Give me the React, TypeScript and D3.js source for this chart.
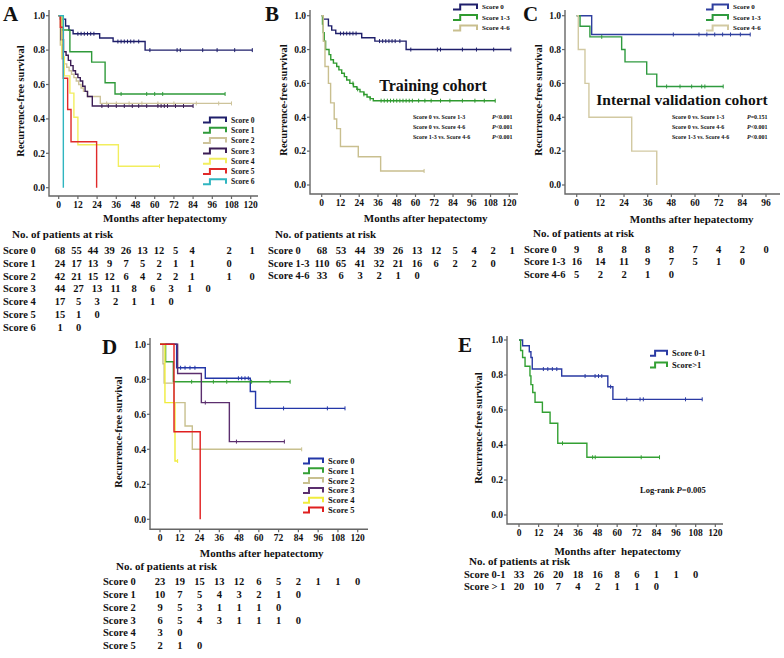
import * as d3 from "d3";

type Pt = [number, number];

const FONT = "'Liberation Serif', 'Times New Roman', serif";

const MONTHS_120 = [0, 12, 24, 36, 48, 60, 72, 84, 96, 108, 120];
const MONTHS_96 = [0, 12, 24, 36, 48, 60, 72, 84, 96];
const SURV_TICKS = [0, 0.2, 0.4, 0.6, 0.8, 1.0];

// ---- training cohort, score 0 (same data in A and B)
const TRAIN_S0: Pt[] = [[0, 1], [1, 0.98], [4.3, 0.94], [6.4, 0.915], [9, 0.895], [25.6, 0.87], [34, 0.85], [54, 0.8]];
const TRAIN_S0_CENS = [12, 14, 16, 18, 20, 22, 37, 39, 41, 43, 45, 47, 50, 57, 74, 76, 90, 99, 110];

// ---- panel A
const A_S1: Pt[] = [[0, 1], [2, 0.917], [7, 0.79], [20.6, 0.73], [29, 0.61], [35.2, 0.545]];
const A_S1_CENS = [39, 55, 60, 65];
const A_S2: Pt[] = [[0, 1], [1, 0.83], [2, 0.75], [3.5, 0.72], [5, 0.7], [6.5, 0.68], [8, 0.66], [9.5, 0.64], [11, 0.62], [12.5, 0.6], [14, 0.58], [15.5, 0.56], [18, 0.53], [26, 0.49]];
const A_S2_CENS = [30, 36, 44, 52, 62, 72, 86, 100];
const A_S3: Pt[] = [[0, 1], [1.5, 0.86], [3, 0.79], [4.6, 0.77], [6, 0.74], [7.5, 0.71], [9, 0.68], [10.5, 0.66], [12, 0.64], [13.5, 0.62], [15, 0.59], [16.5, 0.56], [18, 0.53], [21, 0.475]];
const A_S3_CENS = [27, 31, 36, 41, 46, 50, 55, 62, 64, 66, 68, 73, 78];
const A_S4: Pt[] = [[0, 1], [2, 0.76], [3.5, 0.65], [7, 0.55], [9.5, 0.41], [12, 0.25], [37.3, 0.125]];
const A_S5: Pt[] = [[0, 1], [1, 0.933], [2.9, 0.636], [5.6, 0.455], [7.7, 0.267], [23.7, 0]];
const A_S6: Pt[] = [[0, 1], [2.9, 0]];
const A_ENDS = [121, 104, 108, 84, 63, 23.7, 2.9];

// ---- panel B
const B_S13: Pt[] = [[0, 1], [0.5, 0.95], [1, 0.9], [1.6, 0.85], [2.5, 0.8], [4.7, 0.77], [5.8, 0.74], [7.5, 0.72], [9.6, 0.7], [11, 0.68], [12.8, 0.66], [14.5, 0.64], [16, 0.62], [18, 0.6], [20.3, 0.58], [22.5, 0.565], [24.5, 0.55], [27, 0.535], [29, 0.52], [31, 0.51], [33, 0.498]];
const B_S13_CENS = [20, 23, 27, 31, 38, 40, 42, 44, 46, 48, 50, 52, 54, 56, 58, 62, 66, 70, 76, 82, 90, 98, 104];
const B_S46: Pt[] = [[0, 1], [1, 0.85], [2.1, 0.7], [4.3, 0.6], [5.7, 0.485], [8, 0.39], [9.6, 0.333], [12, 0.227], [23.4, 0.167], [37.7, 0.083]];
const B_ENDS = [121, 111, 65.5];

// ---- panel C
const C_S0: Pt[] = [[0, 1], [7.6, 0.889]];
const C_S0_CENS = [49, 62, 66, 70, 74, 78, 83];
const C_S13: Pt[] = [[0, 1], [1.7, 0.9375], [6.7, 0.875], [22.8, 0.8], [24.5, 0.727], [35.5, 0.655], [40.6, 0.582]];
const C_S13_CENS = [12.7, 45.6, 52.4, 58.3, 63.4, 65];
const C_S46: Pt[] = [[0, 1], [0.8, 0.8], [4.2, 0.6], [6.2, 0.4], [27.9, 0.2], [40.6, 0]];
const C_ENDS = [88, 74.3, 40.6];

// ---- panel D
const D_S0: Pt[] = [[0, 1], [10.1, 0.866], [27.5, 0.806], [54.8, 0.73], [58, 0.634]];
const D_S0_CENS = [12.5, 15.2, 18.2, 21.2, 47.6, 49.6, 51.6, 53.6, 75, 101.6];
const D_S1: Pt[] = [[0, 1], [3.4, 0.9], [8.1, 0.786]];
const D_S1_CENS = [19.2, 32.4, 40.5, 55.6, 66.8];
const D_S2: Pt[] = [[0, 1], [1.8, 0.889], [2.5, 0.778], [8.5, 0.667], [15.2, 0.533], [19.6, 0.4]];
const D_S3: Pt[] = [[0, 1], [10.7, 0.833], [25.1, 0.667], [42.1, 0.444]];
const D_S3_CENS = [27.5, 46.4];
const D_S4: Pt[] = [[0, 1], [3, 0.667], [9.1, 0.333]];
const D_S5: Pt[] = [[0, 1], [8.5, 0.5], [24.4, 0]];
const D_ENDS = [112.3, 79, 86, 75.5, 10.7, 24.4];

// ---- panel E
const E_S01: Pt[] = [[0, 1], [2.2, 0.967], [6.3, 0.933], [7.3, 0.9], [8.1, 0.834], [26.1, 0.794], [54.3, 0.733], [57.4, 0.661]];
const E_S01_CENS = [14.9, 17.6, 20.4, 23.1, 40.4, 46.5, 48.6, 50.6, 56, 65.9, 74, 76, 101.8];
const E_S1: Pt[] = [[0, 1], [1, 0.94], [2.2, 0.9], [3.7, 0.85], [6.7, 0.795], [7.3, 0.745], [8.4, 0.7], [9.8, 0.644], [14.3, 0.587], [19, 0.524], [23.7, 0.41], [41.5, 0.33]];
const E_S1_CENS = [26.6, 45, 46.6, 74.7];
const E_ENDS = [112, 85.9];

// ---- numbers at risk
const A_LABELS = ["Score 0", "Score 1", "Score 2", "Score 3", "Score 4", "Score 5", "Score 6"];
const A_RISK_0 = [68, 55, 44, 39, 26, 13, 12, 5, 4, 2, 1];
const A_RISK_1 = [24, 17, 13, 9, 7, 5, 2, 1, 1, 0];
const A_RISK_2 = [42, 21, 15, 12, 6, 4, 2, 2, 1, 1, 0];
const A_RISK_3 = [44, 27, 13, 11, 8, 6, 3, 1, 0];
const A_RISK_4 = [17, 5, 3, 2, 1, 1, 0];
const A_RISK_5 = [15, 1, 0];
const A_RISK_6 = [1, 0];

const BC_LABELS = ["Score 0", "Score 1-3", "Score 4-6"];
const B_RISK_0 = [68, 53, 44, 39, 26, 13, 12, 5, 4, 2, 1];
const B_RISK_13 = [110, 65, 41, 32, 21, 16, 6, 2, 2, 0];
const B_RISK_46 = [33, 6, 3, 2, 1, 0];
const C_RISK_0 = [9, 8, 8, 8, 8, 7, 4, 2, 0];
const C_RISK_13 = [16, 14, 11, 9, 7, 5, 1, 0];
const C_RISK_46 = [5, 2, 2, 1, 0];

const D_LABELS = ["Score 0", "Score 1", "Score 2", "Score 3", "Score 4", "Score 5"];
const D_RISK_0 = [23, 19, 15, 13, 12, 6, 5, 2, 1, 1, 0];
const D_RISK_1 = [10, 7, 5, 4, 3, 2, 1, 0];
const D_RISK_2 = [9, 5, 3, 1, 1, 1, 0];
const D_RISK_3 = [6, 5, 4, 3, 1, 1, 1, 0];
const D_RISK_4 = [3, 0];
const D_RISK_5 = [2, 1, 0];

const E_LABELS = ["Score 0-1", "Score > 1"];
const E_RISK_01 = [33, 26, 20, 18, 16, 8, 6, 1, 1, 0];
const E_RISK_1 = [20, 10, 7, 4, 2, 1, 1, 0];

const survAt = (pts: Pt[], t: number) => {
  let s = pts[0][1];
  for (const p of pts) if (p[0] <= t) s = p[1];
  return s;
};

type Curve = { pts: Pt[]; end: number; cens: number[]; color: string; label: string };

function Panel(props: any) {
  const { c } = props;
  const x = d3.scaleLinear().domain([0, c.maxMonth]).range([c.x0, c.x1]);
  const y = d3.scaleLinear().domain([0, 1]).range([c.y0, c.y1]);
  const line = d3.line<Pt>().x((d) => x(d[0])).y((d) => y(d[1])).curve(d3.curveStepAfter);
  const curves: Curve[] = c.curves;
  const lg = c.legend;
  return (
    <g fontFamily={FONT} fontWeight="bold" fill="#111">
      <text x={c.letter[0]} y={c.letter[1]} fontSize={21}>{c.letterText}</text>
      <path d={`M${c.axX},${c.axTop}V${c.axY}H${c.axRight}`} fill="none" stroke="#666" strokeWidth={1.4} />
      {SURV_TICKS.map((v) => (
        <g key={v}>
          <line x1={c.axX - 3} x2={c.axX} y1={y(v)} y2={y(v)} stroke="#666" strokeWidth={1.2} />
          <text x={c.axX - 4} y={y(v)} dy="0.35em" textAnchor="end" fontSize={9.5}>{d3.format(".1f")(v)}</text>
        </g>
      ))}
      {c.monthTicks.map((m: number) => (
        <g key={m}>
          <line x1={x(m)} x2={x(m)} y1={c.axY} y2={c.axY + 3} stroke="#666" strokeWidth={1.2} />
          <text x={x(m)} y={c.axY + 8.5} dy="0.35em" textAnchor="middle" fontSize={9.5}>{m}</text>
        </g>
      ))}
      <text x={c.xTitle[0]} y={c.xTitle[1]} dy="0.35em" textAnchor="middle" fontSize={11} style={{ whiteSpace: "pre" }}>{c.xTitleText}</text>
      <text transform={`translate(${c.yTitle[0]},${c.yTitle[1]}) rotate(-90)`} dy="0.35em" textAnchor="middle" fontSize={10.5}>Recurrence-free survival</text>
      {curves.map((cv, i) => {
        const pts: Pt[] = [...cv.pts, [cv.end, survAt(cv.pts, cv.end)]];
        return (
          <g key={i}>
            <path d={line(pts) || ""} fill="none" stroke={cv.color} strokeWidth={1.4} />
            {[...cv.cens, cv.end].filter((t) => survAt(cv.pts, t) > 0).map((t, j) => (
              <line key={j} x1={x(t)} x2={x(t)} y1={y(survAt(cv.pts, t)) - 2} y2={y(survAt(cv.pts, t)) + 2} stroke={cv.color} strokeWidth={1} />
            ))}
          </g>
        );
      })}
      {curves.map((cv, i) => {
        const ly = lg.y0 + lg.dy * i;
        return (
          <g key={"l" + i}>
            <path d={`M${lg.x},${ly + 2.5}h${lg.w * 0.3}v-5h${lg.w * 0.7}v4.5`} fill="none" stroke={cv.color} strokeWidth={2} />
            <text x={lg.x + lg.w + 5} y={ly} dy="0.35em" fontSize={lg.fs}>{cv.label}</text>
          </g>
        );
      })}
      <text x={c.riskTitle[0]} y={c.riskTitle[1]} dy="0.35em" fontSize={11}>No. of patients at risk</text>
      {c.table.map((row: any, i: number) => {
        const ry = c.tableY0 + c.tableDy * i;
        return (
          <g key={"t" + i}>
            <text x={c.tableX} y={ry} dy="0.35em" fontSize={10.5}>{row.label}</text>
            {row.values.map((v: number, j: number) => (
              <text key={j} x={row.col(j, x)} y={ry} dy="0.35em" textAnchor="middle" fontSize={10.5}>{v}</text>
            ))}
          </g>
        );
      })}
    </g>
  );
}

const byMonth = (j: number, x: any) => x(j * 12);
const colA1 = d3.scaleLinear().domain([0, 8, 9, 10]).range([60, 192, 229, 252]);
const colA2 = d3.scaleLinear().domain([0, 8]).range([60, 208]);
const colB = d3.scaleLinear().domain([0, 10]).range([322, 512]);

export default function App() {
  const panels = [
    {
      letterText: "A", letter: [3, 21], maxMonth: 120, x0: 58.7, x1: 250.7, y0: 187.7, y1: 15.7,
      axX: 49, axY: 196, axTop: 10, axRight: 258, monthTicks: MONTHS_120,
      xTitle: [165, 218], xTitleText: "Months after hepatectomy", yTitle: [20, 101],
      curves: [
        { pts: TRAIN_S0, end: A_ENDS[0], cens: TRAIN_S0_CENS, color: "#1f1f6b", label: "Score 0" },
        { pts: A_S1, end: A_ENDS[1], cens: A_S1_CENS, color: "#2f9a3a", label: "Score 1" },
        { pts: A_S2, end: A_ENDS[2], cens: A_S2_CENS, color: "#cdc39a", label: "Score 2" },
        { pts: A_S3, end: A_ENDS[3], cens: A_S3_CENS, color: "#3b1d55", label: "Score 3" },
        { pts: A_S4, end: A_ENDS[4], cens: [], color: "#f2ee5e", label: "Score 4" },
        { pts: A_S5, end: A_ENDS[5], cens: [], color: "#e02a2a", label: "Score 5" },
        { pts: A_S6, end: A_ENDS[6], cens: [], color: "#2fb5c0", label: "Score 6" },
      ],
      legend: { x: 203, y0: 120, dy: 10.3, w: 23, fs: 7.5 },
      riskTitle: [12, 234], tableX: 3, tableY0: 250.7, tableDy: 12.7,
      table: [A_RISK_0, A_RISK_1, A_RISK_2, A_RISK_3, A_RISK_4, A_RISK_5, A_RISK_6].map((values, i) => ({ label: A_LABELS[i], values, col: (j: number) => (i < 3 ? colA1(j) : colA2(j)) })),
    },
    {
      letterText: "B", letter: [265, 21], maxMonth: 120, x0: 321.7, x1: 509.3, y0: 185, y1: 15.7,
      axX: 310, axY: 194, axTop: 10, axRight: 518, monthTicks: MONTHS_120,
      xTitle: [425.7, 218], xTitleText: "Months after hepatectomy", yTitle: [283, 100],
      curves: [
        { pts: TRAIN_S0, end: B_ENDS[0], cens: TRAIN_S0_CENS, color: "#1f1f6b", label: "Score 0" },
        { pts: B_S13, end: B_ENDS[1], cens: B_S13_CENS, color: "#2f9a2f", label: "Score 1-3" },
        { pts: B_S46, end: B_ENDS[2], cens: [], color: "#c9bf8f", label: "Score 4-6" },
      ],
      legend: { x: 453, y0: 7, dy: 10.5, w: 24, fs: 7 },
      riskTitle: [275, 234], tableX: 268, tableY0: 250.7, tableDy: 12.5,
      table: [B_RISK_0, B_RISK_13, B_RISK_46].map((values, i) => ({ label: BC_LABELS[i], values, col: (j: number) => colB(j) })),
    },
    {
      letterText: "C", letter: [523, 21], maxMonth: 96, x0: 576.7, x1: 766, y0: 185, y1: 15.7,
      axX: 565, axY: 194, axTop: 10, axRight: 780, monthTicks: MONTHS_96,
      xTitle: [691.7, 219], xTitleText: "Months after hepatectomy", yTitle: [538, 100],
      curves: [
        { pts: C_S0, end: C_ENDS[0], cens: C_S0_CENS, color: "#2f3f9f", label: "Score 0" },
        { pts: C_S13, end: C_ENDS[1], cens: C_S13_CENS, color: "#2f9a3f", label: "Score 1-3" },
        { pts: C_S46, end: C_ENDS[2], cens: [], color: "#d2c9a2", label: "Score 4-6" },
      ],
      legend: { x: 706, y0: 7, dy: 10.5, w: 22, fs: 7 },
      riskTitle: [533, 233], tableX: 524, tableY0: 249, tableDy: 12.5,
      table: [C_RISK_0, C_RISK_13, C_RISK_46].map((values, i) => ({ label: BC_LABELS[i], values, col: byMonth })),
    },
    {
      letterText: "D", letter: [102, 354], maxMonth: 120, x0: 160, x1: 357.7, y0: 519.3, y1: 344.3,
      axX: 150, axY: 529.3, axTop: 338, axRight: 368, monthTicks: MONTHS_120,
      xTitle: [261.7, 553], xTitleText: "Months after hepatectomy", yTitle: [118, 432],
      curves: [
        { pts: D_S0, end: D_ENDS[0], cens: D_S0_CENS, color: "#2337a8", label: "Score 0" },
        { pts: D_S1, end: D_ENDS[1], cens: D_S1_CENS, color: "#35a035", label: "Score 1" },
        { pts: D_S2, end: D_ENDS[2], cens: [], color: "#c8c08e", label: "Score 2" },
        { pts: D_S3, end: D_ENDS[3], cens: D_S3_CENS, color: "#5b2e6e", label: "Score 3" },
        { pts: D_S4, end: D_ENDS[4], cens: [], color: "#f0ec3c", label: "Score 4" },
        { pts: D_S5, end: D_ENDS[5], cens: [], color: "#e01f1f", label: "Score 5" },
      ],
      legend: { x: 303, y0: 461, dy: 9.8, w: 20, fs: 8.5 },
      riskTitle: [116, 565.7], tableX: 103, tableY0: 581.7, tableDy: 12.75,
      table: [D_RISK_0, D_RISK_1, D_RISK_2, D_RISK_3, D_RISK_4, D_RISK_5].map((values, i) => ({ label: D_LABELS[i], values, col: byMonth })),
    },
    {
      letterText: "E", letter: [458, 352], maxMonth: 120, x0: 519, x1: 715.3, y0: 515, y1: 340,
      axX: 507, axY: 524, axTop: 336, axRight: 723, monthTicks: MONTHS_120,
      xTitle: [617.7, 551], xTitleText: "Months after  hepatectomy", yTitle: [478, 428],
      curves: [
        { pts: E_S01, end: E_ENDS[0], cens: E_S01_CENS, color: "#2a3aa3", label: "Score 0-1" },
        { pts: E_S1, end: E_ENDS[1], cens: E_S1_CENS, color: "#33a033", label: "Score>1" },
      ],
      legend: { x: 650, y0: 353.3, dy: 11.7, w: 17, fs: 8.5 },
      riskTitle: [469, 561], tableX: 464, tableY0: 574, tableDy: 12.7,
      table: [E_RISK_01, E_RISK_1].map((values, i) => ({ label: E_LABELS[i], values, col: byMonth })),
    },
  ];

  const pLines = ["Score 0 vs. Score 1-3", "Score 0 vs. Score 4-6", "Score 1-3 vs. Score 4-6"];
  const bP = ["<0.001", "<0.001", "<0.001"];
  const cP = ["=0.151", "<0.001", "<0.001"];

  return (
    <svg width={784} height={658} style={{ position: "absolute", left: 0, top: 0, background: "#fff" }}>
      <rect width={784} height={658} fill="#fff" />
      {panels.map((c, i) => <Panel key={i} c={c} />)}
      <g fontFamily={FONT} fontWeight="bold" fill="#111">
        <text x={433} y={85} dy="0.35em" textAnchor="middle" fontSize={16}>Training cohort</text>
        <text x={682} y={100} dy="0.35em" textAnchor="middle" fontSize={15.5}>Internal validation cohort</text>
        {pLines.map((t, i) => (
          <g key={i} fontSize={6}>
            <text x={413} y={117 + 10 * i} dy="0.35em">{t}</text>
            <text x={492} y={117 + 10 * i} dy="0.35em"><tspan fontStyle="italic">P</tspan>{bP[i]}</text>
            <text x={672} y={117 + 10 * i} dy="0.35em">{t}</text>
            <text x={747} y={117 + 10 * i} dy="0.35em"><tspan fontStyle="italic">P</tspan>{cP[i]}</text>
          </g>
        ))}
        <text x={640} y={490} dy="0.35em" fontSize={8.5}>Log-rank <tspan fontStyle="italic">P</tspan>=0.005</text>
      </g>
    </svg>
  );
}
